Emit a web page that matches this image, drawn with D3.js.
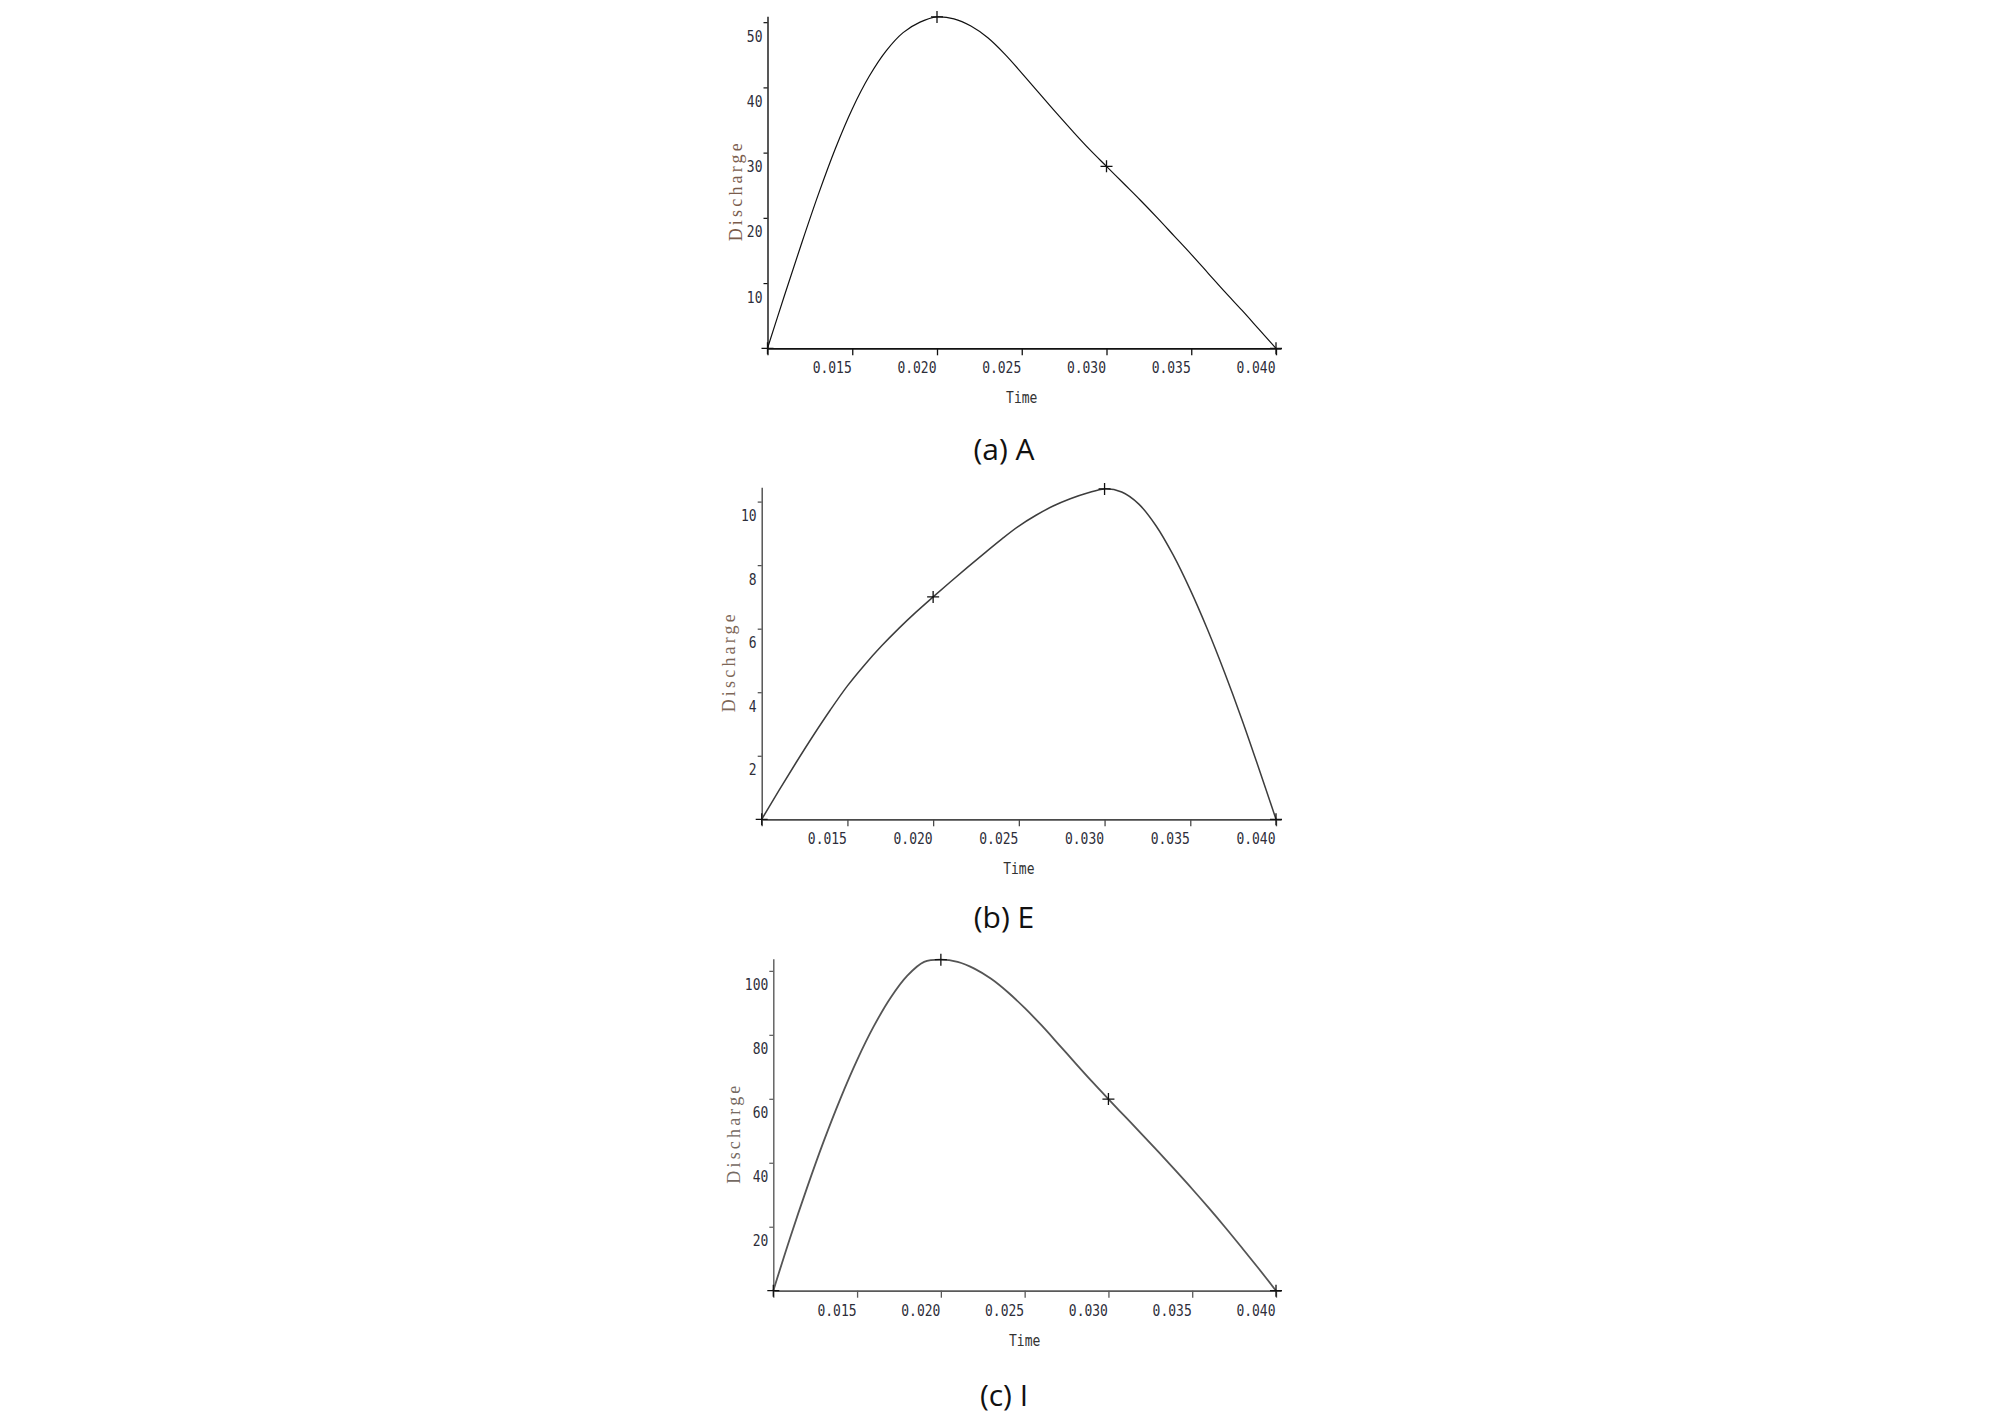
<!DOCTYPE html>
<html>
<head>
<meta charset="utf-8">
<script src="https://cdn.jsdelivr.net/npm/d3@7"></script>
<style>
  body { margin: 0; background: #fff; }
</style>
</head>
<body>
<svg id="chart" width="2008" height="1415"></svg>
<script>
const times = [
  0.010, 0.011, 0.012, 0.013, 0.014, 0.015, 0.016, 0.017, 0.018, 0.019,
  0.020, 0.021, 0.022, 0.023, 0.024, 0.025, 0.026, 0.027, 0.028, 0.029,
  0.030, 0.031, 0.032, 0.033, 0.034, 0.035, 0.036, 0.037, 0.038, 0.039,
  0.040
];

// (a) A
const dischargeA = [
  0, 8.1, 16.0, 23.6, 30.6, 36.7, 41.7, 45.6, 48.4, 50.0,
  50.8, 50.5, 49.4, 47.6, 45.1, 42.2, 39.2, 36.2, 33.3, 30.5,
  27.9, 25.3, 22.7, 20.0, 17.2, 14.4, 11.5, 8.6, 5.8, 2.9,
  0
];

// (b) E
const dischargeE = [
  0, 0.9, 1.78, 2.63, 3.44, 4.2, 4.86, 5.46, 6.01, 6.52,
  7.0, 7.47, 7.93, 8.38, 8.82, 9.23, 9.57, 9.86, 10.09, 10.27,
  10.40, 10.30, 9.92, 9.24, 8.32, 7.22, 5.98, 4.62, 3.16, 1.60,
  0
];

// (c) I
const dischargeI = [
  0, 16.5, 32.0, 46.6, 60.0, 72.1, 82.7, 91.6, 98.5, 102.8,
  103.5, 102.8, 100.7, 97.5, 93.3, 88.4, 83.0, 77.2, 71.3, 65.5,
  59.9, 54.4, 48.9, 43.3, 37.6, 31.8, 25.8, 19.6, 13.2, 6.7,
  0
];

const markerTimes = [0.010, 0.020, 0.030, 0.040];
const xTickValues = [0.010, 0.015, 0.020, 0.025, 0.030, 0.035, 0.040];
const yTicksA = [10, 20, 30, 40, 50];
const yTicksE = [2, 4, 6, 8, 10];
const yTicksI = [20, 40, 60, 80, 100];
const captions = ["(a) A", "(b) E", "(c) I"];
const xLabel = "Time";
const yLabel = "Discharge";

// ---------- LAYOUT ----------
const svg = d3.select("#chart");
const plotH = 332;
const xEndPx = 1276;        // where t = 0.040 lands
const axisOverhang = 0.0003; // axis line runs a little past the last tick
const monoFont = "'DejaVu Sans Mono', 'Liberation Mono', monospace";
const stretch = "scale(1,1.18)";

const panels = [
  { values: dischargeA, yTicks: yTicksA, yTop: 50.9, caption: captions[0],
    left: 767.5, bottom: 348.3, labelX: 742, capY: 460,
    ink: "#111", axisInk: "#111", lw: 1.2, labelInk: "#7a5c4c" },
  { values: dischargeE, yTicks: yTicksE, yTop: 10.45, caption: captions[1],
    left: 761.7, bottom: 819.3, labelX: 735, capY: 928,
    ink: "#3d3d3d", axisInk: "#4a4a4a", lw: 1.5, labelInk: "#7d6757" },
  { values: dischargeI, yTicks: yTicksI, yTop: 103.8, caption: captions[2],
    left: 773.3, bottom: 1290.7, labelX: 740, capY: 1406,
    ink: "#555", axisInk: "#5a5a5a", lw: 1.8, labelInk: "#756a62" }
];

function drawPanel(p) {
  const data = times.map((t, i) => ({ t, v: p.values[i] }));

  const x = d3.scaleLinear().domain([0.010, 0.040]).range([p.left, xEndPx]);
  const xAxisScale = d3.scaleLinear()
    .domain([0.010, 0.040 + axisOverhang])
    .range([p.left, x(0.040 + axisOverhang)]);
  const y = d3.scaleLinear().domain([0, p.yTop]).range([p.bottom, p.bottom - plotH]);

  const g = svg.append("g");

  // x axis
  const xg = g.append("g")
    .attr("transform", `translate(0,${p.bottom})`)
    .call(d3.axisBottom(xAxisScale)
      .tickValues(xTickValues)
      .tickSize(7)
      .tickSizeOuter(0)
      .tickFormat(d => d === 0.010 ? "" : d3.format(".3f")(d)));

  xg.select(".domain").attr("stroke", p.axisInk).attr("stroke-width", 1.8);
  xg.selectAll(".tick line").attr("stroke", p.axisInk).attr("stroke-width", 1.3);
  xg.selectAll(".tick text")
    .attr("x", null).attr("y", null).attr("dy", null)
    .attr("text-anchor", "end")
    .attr("transform", `translate(-1,25) ${stretch}`)
    .attr("font-family", monoFont)
    .attr("font-size", 13)
    .attr("fill", "#2e2e3a");

  // y axis
  const yg = g.append("g")
    .attr("transform", `translate(${p.left},0)`)
    .call(d3.axisLeft(y)
      .tickValues(p.yTicks)
      .tickSize(4)
      .tickSizeOuter(0)
      .tickFormat(d3.format("d")));

  yg.select(".domain").attr("stroke", p.axisInk).attr("stroke-width", 1.4);
  yg.selectAll(".tick line").attr("stroke", p.axisInk).attr("stroke-width", 1.2);
  yg.selectAll(".tick text")
    .attr("x", null).attr("y", null).attr("dy", null)
    .attr("text-anchor", "end")
    .attr("transform", `translate(-5,19) ${stretch}`)
    .attr("font-family", monoFont)
    .attr("font-size", 13)
    .attr("fill", "#2e2e3a");

  // curve
  const line = d3.line()
    .x(d => x(d.t))
    .y(d => y(d.v))
    .curve(d3.curveCatmullRom.alpha(0.5));

  g.append("path")
    .datum(data)
    .attr("fill", "none")
    .attr("stroke", p.ink)
    .attr("stroke-width", p.lw)
    .attr("stroke-linejoin", "round")
    .attr("d", line);

  // "+" markers at the whole-hundredth points
  const marks = data.filter(d => markerTimes.some(m => Math.abs(m - d.t) < 1e-9));
  g.selectAll(".mark")
    .data(marks)
    .join("path")
    .attr("class", "mark")
    .attr("fill", "none")
    .attr("stroke", "#111")
    .attr("stroke-width", 1.3)
    .attr("d", d => {
      const cx = x(d.t), cy = y(d.v);
      return `M${cx - 6},${cy}H${cx + 6}M${cx},${cy - 6}V${cy + 6}`;
    });

  // axis titles
  g.append("text")
    .attr("transform", `translate(${(p.left + xEndPx) / 2},${p.bottom + 55}) ${stretch}`)
    .attr("text-anchor", "middle")
    .attr("font-family", monoFont)
    .attr("font-size", 13)
    .attr("fill", "#333")
    .text(xLabel);

  g.append("text")
    .attr("transform", `translate(${p.labelX},${p.bottom - plotH / 2 + 10}) rotate(-90)`)
    .attr("text-anchor", "middle")
    .attr("font-family", "'Liberation Serif', 'DejaVu Serif', serif")
    .attr("font-size", 18)
    .attr("textLength", 98)
    .attr("lengthAdjust", "spacing")
    .attr("fill", p.labelInk)
    .text(yLabel);

  // caption
  svg.append("text")
    .attr("x", 1004)
    .attr("y", p.capY)
    .attr("text-anchor", "middle")
    .attr("font-family", "'Open Sans', 'Noto Sans', sans-serif")
    .attr("font-size", 30)
    .attr("fill", "#111")
    .text(p.caption);
}

panels.forEach(drawPanel);
</script>
</body>
</html>
